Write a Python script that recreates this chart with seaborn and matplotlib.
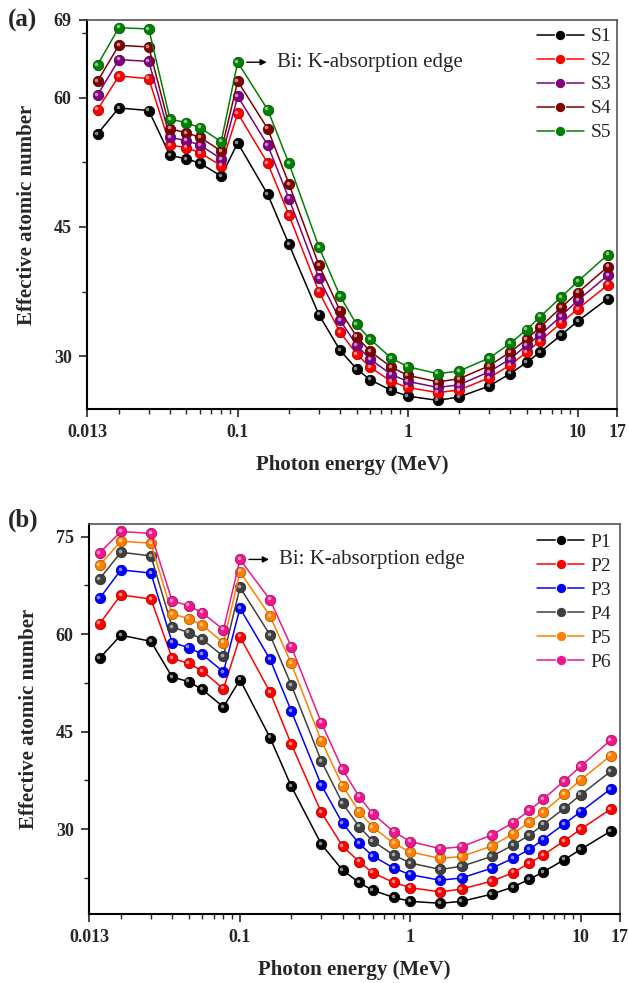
import matplotlib
matplotlib.use("Agg")
import matplotlib.pyplot as plt
import matplotlib.transforms as mtransforms
from matplotlib.colors import to_rgb
from matplotlib.ticker import NullFormatter
import numpy as np
import pandas as pd
import seaborn as sns

# Photon energies (MeV)
energy = [0.015, 0.02, 0.03, 0.04, 0.05, 0.06, 0.08, 0.1, 0.15, 0.2, 0.3, 0.4, 0.5,
          0.6, 0.8, 1, 1.5, 2, 3, 4, 5, 6, 8, 10, 15]

# Panel (a): effective atomic number, S samples
S1 = [55.8, 58.8, 58.5, 53.3, 52.9, 52.4, 50.9, 54.75, 48.8, 43.0, 34.85, 30.7, 28.55,
      27.3, 26.05, 25.4, 24.9, 25.3, 26.55, 28.0, 29.3, 30.5, 32.5, 34.1, 36.7]
S2 = [58.6, 62.5, 62.2, 54.5, 54.2, 53.6, 52.1, 58.2, 52.4, 46.4, 37.5, 32.8, 30.3,
      28.75, 27.1, 26.4, 25.8, 26.1, 27.5, 29.0, 30.5, 31.8, 33.9, 35.5, 38.3]
S3 = [60.3, 64.4, 64.2, 55.4, 55.0, 54.5, 52.9, 60.15, 54.5, 48.3, 39.1, 34.2, 31.3,
      29.7, 27.9, 27.1, 26.4, 26.7, 28.2, 29.7, 31.3, 32.5, 34.7, 36.5, 39.4]
S4 = [61.9, 66.06, 65.87, 56.4, 55.9, 55.4, 53.8, 61.9, 56.4, 50.0, 40.6, 35.3, 32.3,
      30.6, 28.75, 27.8, 27.05, 27.4, 28.9, 30.5, 32.0, 33.4, 35.7, 37.4, 40.4]
S5 = [63.8, 68.1, 67.96, 57.5, 57.1, 56.5, 54.9, 64.1, 58.6, 52.4, 42.7, 37.0, 33.7,
      32.0, 29.8, 28.8, 28.0, 28.3, 29.8, 31.5, 33.1, 34.6, 36.9, 38.7, 41.8]

# Panel (b): effective atomic number, P samples
P1 = [56.3, 59.85, 58.9, 53.4, 52.7, 51.5, 48.8, 53.0, 44.1, 36.6, 27.7, 23.7, 21.8,
      20.6, 19.5, 18.9, 18.6, 18.9, 20.0, 21.1, 22.3, 23.4, 25.3, 26.9, 29.7]
P2 = [61.6, 66.05, 65.4, 56.3, 55.5, 54.35, 51.6, 59.6, 51.1, 43.1, 32.6, 27.4, 25.0,
      23.3, 21.8, 21.0, 20.35, 20.8, 22.0, 23.3, 24.8, 26.0, 28.2, 30.0, 33.1]
P3 = [65.5, 69.9, 69.4, 58.7, 57.95, 56.9, 54.2, 64.0, 56.15, 48.2, 36.8, 30.9, 27.8,
      25.9, 24.0, 23.0, 22.15, 22.5, 24.0, 25.5, 26.9, 28.4, 30.8, 32.7, 36.2]
P4 = [68.5, 72.6, 72.05, 61.1, 60.25, 59.2, 56.6, 67.2, 59.9, 52.2, 40.5, 34.0, 30.4,
      28.2, 26.0, 24.8, 23.8, 24.3, 25.8, 27.55, 29.1, 30.7, 33.2, 35.3, 38.9]
P5 = [70.6, 74.3, 74.0, 63.1, 62.4, 61.4, 58.7, 69.6, 62.8, 55.5, 43.6, 36.7, 32.7,
      30.35, 27.8, 26.5, 25.5, 25.8, 27.4, 29.3, 31.1, 32.6, 35.4, 37.6, 41.3]
P6 = [72.5, 75.8, 75.5, 65.1, 64.4, 63.3, 60.7, 71.5, 65.3, 58.1, 46.4, 39.2, 35.0,
      32.4, 29.6, 28.1, 27.0, 27.3, 29.1, 31.0, 32.9, 34.6, 37.4, 39.7, 43.7]

s_names = ["S1", "S2", "S3", "S4", "S5"]
s_values = [S1, S2, S3, S4, S5]
s_colors = ["#000000", "#ff0000", "#800080", "#800000", "#008000"]

p_names = ["P1", "P2", "P3", "P4", "P5", "P6"]
p_values = [P1, P2, P3, P4, P5, P6]
p_colors = ["#000000", "#ff0000", "#0000ff", "#404040", "#ff8000", "#f0168c"]

x_ticks = [0.013, 0.1, 1, 10, 17]
x_ticklabels = ["0.013", "0.1", "1", "10", "17"]

sns.set_style("ticks")
plt.rcParams["font.family"] = ["Liberation Serif", "DejaVu Serif"]

fig = plt.figure(figsize=(6.29, 9.83), dpi=100)
ax_a = fig.add_axes([0.1383, 0.5839, 0.8427, 0.3958])
ax_b = fig.add_axes([0.1415, 0.0705, 0.8442, 0.3961])


def mix(color, amount):
    r, g, b = to_rgb(color)
    return (r + (1 - r) * amount, g + (1 - g) * amount, b + (1 - b) * amount)


def draw_panel(ax, names, values, colors, ylim, yticks, yminor, legend_anchor):
    df = pd.DataFrame({
        "energy": np.tile(energy, len(names)),
        "zeff": np.concatenate(values),
        "sample": np.repeat(names, len(energy)),
    })
    palette = dict(zip(names, colors))
    sns.lineplot(data=df, x="energy", y="zeff", hue="sample", hue_order=names,
                 palette=palette, marker="o", markersize=7.5, linewidth=1.1,
                 ax=ax, legend=True)

    # darker marker edge + small glossy highlight like the original spheres
    for line, c in zip(ax.lines[:len(names)], colors):
        line.set_markeredgecolor(tuple(v * 0.7 for v in to_rgb(c)))
        line.set_markeredgewidth(0.6)
    shine = mtransforms.offset_copy(ax.transData, fig=fig, x=-1.3, y=1.3, units="dots")
    for vals, c in zip(values, colors):
        ax.plot(energy, vals, "o", ms=2.6, color=mix(c, 0.55), mec="none",
                transform=shine, zorder=5)

    ax.set_xscale("log")
    ax.set_xlim(0.013, 17)
    ax.set_xticks(x_ticks)
    ax.set_xticklabels(x_ticklabels)
    ax.xaxis.set_minor_formatter(NullFormatter())
    ax.set_ylim(*ylim)
    ax.set_yticks(yticks)
    ax.set_yticks(yminor, minor=True)

    ax.set_xlabel("Photon energy (MeV)", fontsize=15, fontweight="bold", labelpad=10)
    ax.set_ylabel("Effective atomic number", fontsize=15, fontweight="bold", labelpad=12)
    for lab in ax.get_xticklabels() + ax.get_yticklabels():
        lab.set_fontweight("bold")
        lab.set_fontsize(13)

    ax.tick_params(which="major", direction="out", length=6, width=1.2, pad=5)
    ax.tick_params(which="minor", direction="out", length=3.5, width=1.0)
    for side in ["left", "bottom"]:
        ax.spines[side].set_color("black")
        ax.spines[side].set_linewidth(1.5)
    for side in ["top", "right"]:
        ax.spines[side].set_visible(True)
        ax.spines[side].set_color("#555555")
        ax.spines[side].set_linewidth(1.2)

    handles, labels = ax.get_legend_handles_labels()
    ax.legend(handles[:len(names)], labels[:len(names)], loc="upper left",
              bbox_to_anchor=legend_anchor, frameon=False, fontsize=14,
              handlelength=2.4, handletextpad=0.35, labelspacing=0.33,
              borderpad=0, borderaxespad=0)

    # K-edge annotation next to the highest curve at 0.1 MeV
    top = values[-1]
    k = energy.index(0.1)
    base = ax.transData.transform((0.1, top[k]))
    inv = ax.transData.inverted()
    tail = inv.transform((base[0] + 9, base[1]))
    head = inv.transform((base[0] + 29, base[1]))
    ax.annotate("", xy=head, xytext=tail,
                arrowprops=dict(arrowstyle="-|>", color="black", lw=1.0,
                                mutation_scale=9, shrinkA=0, shrinkB=0))
    txt = inv.transform((base[0] + 39, base[1]))
    ax.text(txt[0], txt[1], "Bi: K-absorption edge", fontsize=15, va="center",
            ha="left")


draw_panel(ax_a, s_names, s_values, s_colors, (23.9, 69), [30, 45, 60, 69],
           [37.5, 52.5, 67.5], (0.849, 0.980))
draw_panel(ax_b, p_names, p_values, p_colors, (17, 76.9), [30, 45, 60, 75],
           [22.5, 37.5, 52.5, 67.5], (0.844, 0.978))

fig.text(8 / 629, 1 - 20 / 983, "(a)", fontsize=18, fontweight="bold", va="center")
fig.text(8 / 629, 1 - 520 / 983, "(b)", fontsize=18, fontweight="bold", va="center")

fig.savefig("out.png", dpi=100)
